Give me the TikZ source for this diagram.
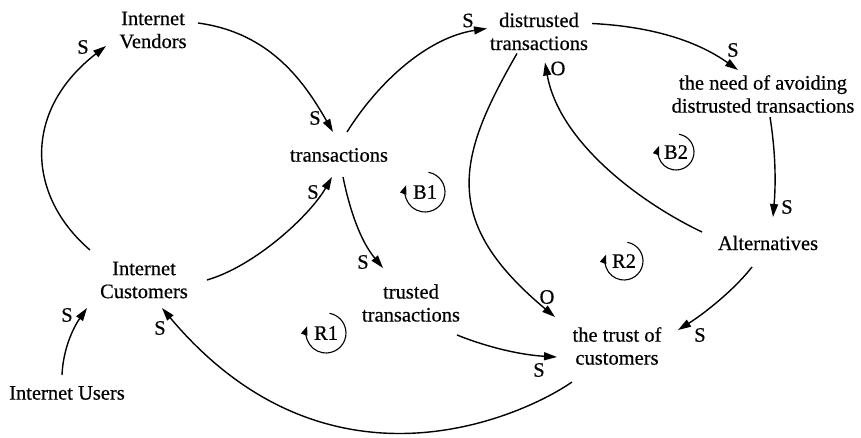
\documentclass[tikz,border=0pt]{standalone}
\usepackage{fontspec}
\setmainfont{Liberation Serif}[FakeBold=0.5]
\usetikzlibrary{arrows.meta,calc}
\begin{document}
\begin{tikzpicture}[x=1pt,y=1pt,
  every node/.style={font=\fontsize{20.5}{23}\selectfont, inner sep=0pt, align=center},
  link/.style={line width=1.4pt, -{Triangle[length=13pt,width=8pt]}},
  pol/.style={inner sep=0pt},
  loopmark/.style={line width=1.1pt, -{Triangle[length=9pt,width=6.5pt]}}]
\useasboundingbox (0,0) rectangle (861,437);

% variables
\node (IV) at (153,407) {Internet\\Vendors};
\node (T) at (339,282) {transactions};
\node (DT) at (539,405.5) {distrusted\\transactions};
\node (NEED) at (763,343) {the need of avoiding\\distrusted transactions};
\node (ALT) at (768,194) {Alternatives};
\node (TRUST) at (617,91) {the trust of\\customers};
\node (TT) at (411,134) {trusted\\transactions};
\node (IC) at (144,157) {Internet\\Customers};
\node (IU) at (67,44) {Internet Users};

% links
\draw[link] ($(IC)+(-54,30)$) .. controls +(-62,53) and +(-85,-66) .. ($(IV)+(-47,-16)$)
  node[pol, at end, xshift=-23pt, yshift=-1pt] (s1) {S};
\draw[link] ($(IV)+(45,7)$) .. controls +(74,-10) and +(-27.5,47.6) .. ($(T)+(-6,23)$)
  node[pol, at end, xshift=-18pt, yshift=14pt] (s2) {S};
\draw[link] ($(IC)+(63,0)$) .. controls +(48,14) and +(-22.5,-39) .. ($(T)+(-7,-22)$)
  node[pol, at end, xshift=-19pt, yshift=-15pt] (s3) {S};
\draw[link] ($(T)+(8,23)$) .. controls +(32,51) and +(-59,-9) .. ($(DT)+(-52,3)$)
  node[pol, at end, xshift=-19pt, yshift=8pt] (s4) {S};
\draw[link] ($(T)+(4,-22)$) .. controls +(7,-34) and +(-22.5,27) .. ($(TT)+(-28,35)$)
  node[pol, at end, xshift=-20pt, yshift=6pt] (s5) {S};
\draw[link] ($(DT)+(53,8)$) .. controls +(60,-3) and +(-41,29) .. ($(NEED)+(-25,24)$)
  node[pol, at end, xshift=-5pt, yshift=20pt] (s6) {S};
\draw[link] ($(NEED)+(7,-23)$) .. controls +(5.5,-34.6) and +(3,35) .. ($(ALT)+(5,26)$)
  node[pol, at end, xshift=14pt, yshift=10pt] (s7) {S};
\draw[link] ($(ALT)+(-66,11)$) .. controls +(-63,30) and +(14,-79) .. ($(DT)+(6,-31)$)
  node[pol, at end, xshift=13pt, yshift=-6pt] (o1) {O};
\draw[link] ($(DT)+(-22,-22)$) .. controls +(-60,-104) and +(-115,96) .. ($(TRUST)+(-62,29)$)
  node[pol, at end, xshift=-8pt, yshift=20pt] (o2) {O};
\draw[link] ($(TT)+(46,-32)$) .. controls +(32.5,-13) and +(-35,2) .. ($(TRUST)+(-60,-11)$)
  node[pol, at end, xshift=-18pt, yshift=-13pt] (s8) {S};
\draw[link] ($(ALT)+(-16,-24)$) .. controls +(-18.5,-23.6) and +(25.4,15.9) .. ($(TRUST)+(61,16)$)
  node[pol, at end, xshift=22pt, yshift=-5pt] (s9) {S};
\draw[link] ($(TRUST)+(-45,-36)$) .. controls +(-45.4,-31.8) and +(168,-200) .. ($(IC)+(18,-28)$)
  node[pol, at end, xshift=-2pt, yshift=-20pt] (s10) {S};
\draw[link] ($(IU)+(-5,18)$) .. controls +(1,25) and +(-14.3,-20.5) .. ($(IC)+(-57,-28)$)
  node[pol, at end, xshift=-20pt, yshift=-7pt] (s11) {S};

% loop markers
\node (B1) at (425,245) {B1};
\draw[loopmark] ($(B1)+(80:20pt)$) arc[start angle=80, end angle=-200, radius=20pt];
\node (B2) at (676,285) {B2};
\draw[loopmark] ($(B2)+(80:18pt)$) arc[start angle=80, end angle=-200, radius=18pt];
\node (R1) at (326,104) {R1};
\draw[loopmark] ($(R1)+(80:20pt)$) arc[start angle=80, end angle=-200, radius=20pt];
\node (R2) at (624,176) {R2};
\draw[loopmark] ($(R2)+(80:19pt)$) arc[start angle=80, end angle=-200, radius=19pt];
\end{tikzpicture}
\end{document}
